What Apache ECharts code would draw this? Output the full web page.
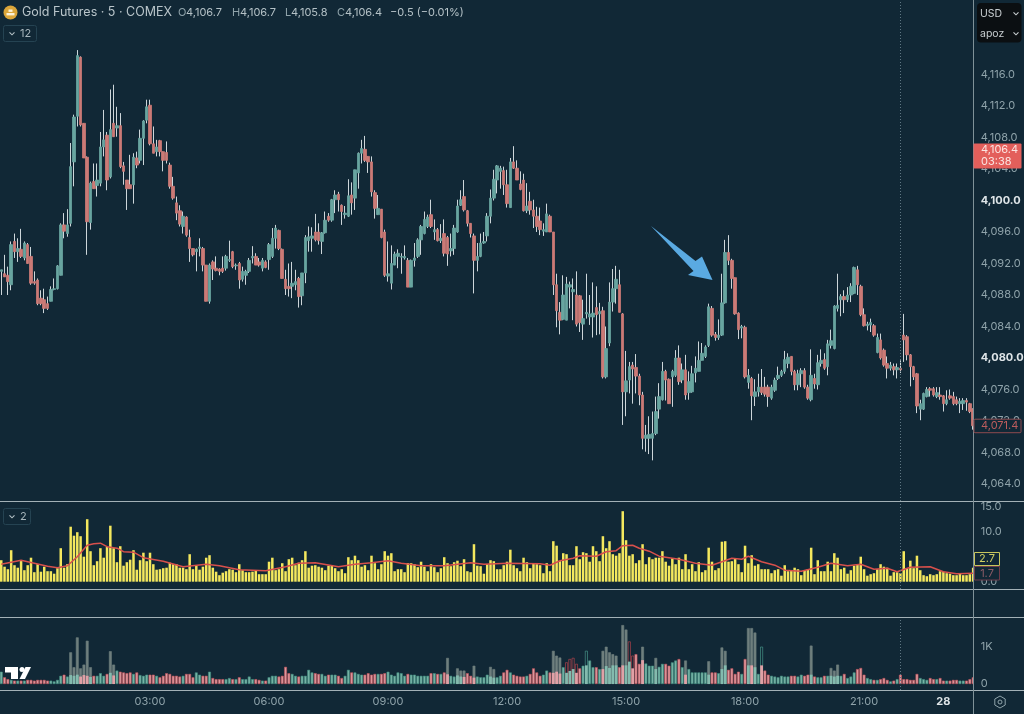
<!DOCTYPE html>
<html><head><meta charset="utf-8">
<style>html,body{margin:0;padding:0;background:#112836}#c{width:1024px;height:714px;filter:blur(0.35px)}</style>
<script src="https://cdn.jsdelivr.net/npm/echarts@6/dist/echarts.min.js"></script>
</head><body><div id="c"></div>
<script>
const opens=[4091.0,4090.7,4090.5,4089.3,4094.8,4093.5,4093.8,4092.7,4094.4,4092.9,
4089.7,4089.9,4087.6,4087.4,4086.9,4087.2,4088.7,4088.8,4090.5,4096.9,
4095.8,4097.1,4104.9,4110.7,4118.2,4109.8,4105.5,4097.2,4102.4,4101.9,
4102.2,4106.8,4108.3,4103.0,4109.8,4109.2,4109.5,4104.4,4102.6,4102.0,
4102.0,4105.4,4105.1,4107.9,4110.2,4112.1,4107.2,4106.2,4107.6,4106.2,
4106.1,4104.5,4101.8,4099.7,4098.7,4096.7,4097.9,4095.3,4093.9,4093.5,
4093.9,4093.9,4091.8,4087.2,4092.2,4091.4,4091.3,4091.4,4091.4,4092.4,
4093.5,4091.7,4092.0,4090.0,4090.5,4091.0,4092.7,4092.9,4092.2,4091.4,
4092.2,4092.5,4092.9,4095.2,4096.2,4093.8,4090.0,4089.1,4089.1,4089.3,
4090.1,4087.9,4090.8,4094.9,4095.2,4096.0,4096.0,4094.8,4095.9,4098.0,
4097.5,4100.1,4100.8,4099.4,4098.2,4098.0,4100.7,4100.3,4103.5,4106.0,
4106.5,4105.6,4104.9,4101.0,4098.2,4098.9,4096.0,4090.4,4089.5,4091.8,
4092.9,4092.8,4092.7,4092.4,4089.0,4092.4,4092.9,4095.0,4095.8,4096.7,
4098.2,4096.0,4096.3,4094.9,4095.8,4095.3,4093.6,4093.9,4096.0,4099.4,
4100.5,4098.7,4097.1,4095.5,4092.4,4092.9,4094.6,4095.5,4098.0,4100.3,
4102.6,4103.7,4103.8,4102.0,4099.1,4104.9,4104.1,4102.1,4102.6,4098.7,
4099.9,4098.8,4098.0,4097.4,4096.1,4096.0,4098.0,4096.0,4089.3,4085.8,
4084.9,4084.8,4089.0,4088.4,4088.0,4087.9,4084.3,4085.6,4085.2,4085.2,
4086.4,4085.6,4086.0,4077.6,4081.9,4087.1,4088.8,4089.3,4085.6,4075.7,
4077.2,4079.1,4078.8,4077.7,4075.3,4069.8,4069.8,4069.8,4070.4,4073.5,
4074.7,4078.3,4077.3,4077.6,4077.8,4080.0,4077.2,4078.5,4075.6,4075.7,
4078.1,4078.3,4079.7,4080.2,4081.6,4086.3,4083.0,4082.6,4082.9,4087.0,
4093.4,4092.4,4090.2,4085.7,4083.8,4083.9,4076.9,4077.4,4075.1,4075.7,
4076.3,4076.3,4076.3,4074.9,4075.9,4077.4,4077.8,4078.3,4079.3,4080.2,
4078.3,4076.6,4078.0,4078.4,4076.3,4074.7,4077.4,4076.6,4079.3,4079.8,
4078.9,4081.6,4081.2,4086.3,4087.4,4087.8,4087.4,4088.0,4088.2,4091.2,
4089.1,4085.5,4084.1,4084.2,4084.1,4080.7,4082.3,4081.0,4079.3,4078.7,
4078.9,4078.5,4078.7,4082.9,4082.7,4080.4,4078.9,4078.0,4073.5,4073.5,
4075.1,4076.1,4076.1,4075.1,4075.3,4075.2,4074.2,4075.2,4075.1,4074.7,
4074.2,4074.2,4074.6,4074.2,4073.5];
const closes=[4091.2,4090.3,4089.7,4094.4,4093.5,4093.9,4092.9,4094.6,4092.0,4089.5,
4089.5,4086.9,4086.9,4086.3,4086.3,4088.7,4088.8,4091.7,4096.9,4096.1,
4096.9,4104.3,4110.6,4118.4,4109.6,4105.4,4097.3,4102.2,4101.5,4102.6,
4106.8,4107.7,4102.6,4109.0,4108.1,4109.5,4104.3,4103.7,4101.5,4101.5,
4105.5,4104.5,4107.9,4110.1,4111.9,4107.2,4106.0,4106.8,4106.2,4105.1,
4105.1,4101.8,4100.3,4098.4,4097.0,4098.0,4095.6,4093.9,4093.1,4093.8,
4094.1,4091.8,4087.2,4091.8,4091.3,4091.1,4091.0,4091.0,4092.9,4092.5,
4091.6,4091.8,4089.9,4091.0,4091.0,4092.4,4092.9,4091.8,4091.8,4092.4,
4091.5,4094.4,4095.2,4096.5,4093.9,4090.1,4088.8,4088.8,4089.5,4089.7,
4087.8,4090.8,4095.3,4095.4,4095.5,4095.0,4094.9,4095.9,4097.5,4097.5,
4100.1,4100.7,4100.1,4098.6,4098.4,4100.6,4099.7,4103.9,4106.0,4106.6,
4105.1,4104.9,4101.1,4099.0,4099.0,4095.3,4090.5,4090.7,4092.0,4093.2,
4093.3,4092.9,4092.9,4089.0,4092.4,4092.7,4095.0,4096.7,4097.6,4097.9,
4096.7,4096.3,4094.9,4095.2,4093.3,4093.2,4093.9,4096.5,4099.3,4100.1,
4098.8,4097.1,4095.8,4092.4,4092.9,4094.6,4094.8,4098.0,4100.3,4102.7,
4104.4,4104.1,4102.0,4099.6,4104.9,4104.1,4102.6,4101.4,4098.7,4099.3,
4098.8,4098.0,4096.7,4096.3,4096.3,4098.3,4096.0,4089.3,4086.0,4084.8,
4088.0,4089.4,4089.3,4088.7,4084.3,4084.5,4085.0,4085.8,4085.6,4085.7,
4085.5,4085.9,4077.6,4081.2,4087.1,4088.8,4090.0,4085.8,4075.7,4077.1,
4078.9,4078.6,4077.7,4075.3,4069.8,4070.2,4070.3,4070.4,4073.2,4075.1,
4078.3,4077.2,4074.2,4078.3,4080.0,4077.0,4078.5,4075.3,4077.0,4078.0,
4078.7,4079.7,4080.6,4081.4,4086.5,4082.9,4082.6,4082.9,4087.0,4093.4,
4092.4,4090.1,4085.6,4083.6,4084.0,4077.6,4077.8,4075.2,4075.7,4076.3,
4075.6,4075.4,4075.1,4076.3,4077.2,4077.8,4078.3,4079.8,4080.1,4078.3,
4076.6,4078.0,4078.4,4076.3,4074.9,4077.8,4076.7,4079.4,4079.7,4078.7,
4081.8,4082.2,4086.6,4086.7,4087.8,4087.4,4088.0,4089.1,4091.5,4089.3,
4085.5,4084.1,4084.3,4084.5,4082.9,4082.6,4080.0,4079.1,4078.7,4079.1,
4078.5,4078.8,4078.5,4082.3,4080.4,4078.9,4077.6,4073.9,4074.2,4075.5,
4076.0,4075.9,4075.3,4075.6,4075.1,4074.2,4074.7,4074.9,4074.2,4074.2,
4074.5,4074.6,4074.4,4073.2,4071.4];
const highs=[4091.2,4093.1,4091.6,4094.8,4095.8,4095.2,4096.4,4094.8,4094.6,4094.1,
4091.0,4090.1,4088.6,4088.8,4087.8,4089.1,4090.1,4091.8,4097.1,4098.4,
4098.9,4107.3,4110.9,4119.1,4118.3,4109.8,4105.6,4102.4,4104.7,4104.7,
4108.7,4111.5,4108.7,4114.1,4114.7,4111.9,4111.1,4104.9,4102.6,4105.8,
4106.0,4106.2,4109.0,4110.2,4112.8,4112.8,4109.4,4107.7,4107.7,4106.2,
4107.5,4104.8,4103.0,4100.5,4099.4,4098.6,4098.0,4096.3,4093.9,4093.9,
4095.2,4094.1,4091.8,4092.0,4092.4,4092.9,4091.4,4092.9,4093.1,4094.9,
4093.6,4092.0,4092.2,4091.6,4091.2,4092.7,4094.2,4093.3,4092.7,4092.7,
4092.4,4094.6,4096.5,4096.9,4096.3,4093.9,4091.2,4092.0,4092.2,4091.2,
4090.3,4090.8,4095.6,4096.7,4096.6,4098.3,4097.1,4096.0,4098.6,4098.4,
4100.2,4101.3,4101.1,4099.5,4099.3,4102.7,4102.3,4103.9,4106.1,4107.7,
4108.2,4105.6,4105.6,4101.3,4100.7,4098.9,4096.3,4094.8,4094.3,4093.5,
4093.8,4093.3,4094.3,4092.7,4092.5,4094.6,4095.2,4096.9,4098.6,4098.2,
4100.1,4097.6,4096.5,4097.0,4097.6,4095.5,4095.8,4096.9,4100.1,4101.3,
4102.6,4098.8,4097.1,4095.8,4094.6,4095.8,4096.0,4098.4,4101.4,4103.9,
4104.5,4104.4,4104.3,4103.9,4105.4,4106.9,4105.1,4103.7,4103.4,4102.2,
4101.1,4100.1,4099.2,4099.1,4097.1,4099.6,4098.2,4096.0,4090.7,4087.1,
4090.5,4090.3,4089.7,4090.1,4091.0,4088.0,4087.4,4090.7,4088.0,4089.6,
4089.1,4087.0,4086.5,4084.0,4089.6,4091.3,4091.7,4091.2,4085.7,4080.9,
4079.5,4079.5,4080.5,4078.0,4075.7,4071.5,4072.6,4073.2,4075.1,4076.8,
4079.5,4078.5,4077.4,4078.5,4081.0,4081.6,4079.3,4080.4,4078.3,4079.0,
4080.2,4082.1,4081.9,4081.6,4086.9,4086.6,4083.3,4084.9,4090.7,4095.0,
4095.6,4092.6,4090.2,4085.8,4084.2,4084.1,4078.6,4077.6,4077.3,4078.0,
4078.6,4077.6,4076.6,4076.6,4077.5,4078.9,4078.5,4080.9,4080.6,4080.2,
4078.5,4078.5,4078.7,4078.7,4076.6,4081.1,4078.0,4080.4,4081.1,4080.6,
4082.3,4083.6,4086.7,4090.7,4088.1,4088.6,4089.0,4089.5,4091.6,4091.7,
4089.3,4086.3,4084.6,4085.0,4084.3,4083.1,4083.1,4081.2,4080.2,4079.5,
4079.3,4079.3,4079.7,4085.6,4082.9,4080.5,4079.0,4078.1,4074.7,4075.6,
4076.3,4076.3,4076.3,4076.3,4076.3,4075.3,4075.9,4076.0,4075.7,4075.1,
4074.9,4074.9,4074.9,4074.3,4073.6];
const lows=[4088.0,4090.3,4088.0,4088.6,4092.7,4092.2,4092.7,4092.4,4092.0,4089.3,
4089.3,4086.7,4086.7,4085.7,4086.1,4087.2,4088.6,4088.7,4090.5,4095.2,
4095.4,4096.7,4101.8,4109.4,4109.4,4105.4,4093.1,4096.3,4101.5,4100.5,
4101.8,4105.6,4101.3,4102.8,4108.1,4108.1,4104.1,4102.0,4098.8,4101.5,
4099.6,4104.1,4104.7,4104.5,4109.8,4107.0,4106.0,4105.6,4105.6,4103.7,
4104.7,4101.5,4100.1,4097.5,4096.7,4095.8,4095.4,4092.2,4092.9,4091.0,
4092.9,4091.0,4087.2,4086.9,4089.9,4091.0,4090.5,4090.8,4091.1,4092.2,
4091.4,4091.2,4088.8,4089.7,4089.3,4090.8,4092.0,4091.8,4091.6,4091.0,
4091.4,4091.2,4092.7,4093.9,4093.7,4090.1,4088.0,4087.8,4087.6,4088.6,
4086.4,4086.7,4089.5,4093.5,4093.5,4094.8,4094.4,4093.2,4095.8,4097.3,
4097.3,4098.4,4098.6,4096.9,4097.7,4097.9,4098.2,4098.8,4101.5,4104.7,
4104.9,4103.5,4100.5,4097.7,4098.2,4095.2,4090.3,4089.7,4088.7,4091.8,
4091.4,4090.7,4092.5,4089.0,4089.0,4091.6,4092.7,4093.1,4095.7,4096.5,
4096.5,4095.0,4094.8,4094.6,4092.9,4091.7,4092.9,4093.1,4095.9,4099.3,
4098.6,4096.7,4095.3,4088.2,4091.0,4092.8,4094.5,4094.8,4097.1,4100.0,
4100.9,4101.5,4100.7,4099.1,4099.1,4104.0,4102.6,4101.3,4098.6,4098.4,
4098.2,4096.5,4096.0,4095.6,4095.5,4096.0,4096.0,4088.0,4083.9,4083.0,
4084.8,4084.8,4086.3,4084.8,4084.0,4083.3,4082.3,4085.0,4084.2,4082.6,
4082.9,4083.0,4077.4,4077.4,4081.5,4085.9,4086.9,4085.8,4071.5,4072.6,
4075.5,4074.2,4075.5,4074.0,4068.4,4068.1,4067.8,4067.0,4070.2,4072.3,
4074.6,4074.6,4074.2,4073.8,4077.6,4076.6,4076.8,4074.7,4074.7,4075.6,
4076.9,4078.3,4079.7,4080.0,4081.4,4082.7,4082.2,4082.3,4082.8,4086.9,
4091.8,4088.8,4085.5,4082.4,4082.5,4077.4,4076.1,4072.1,4073.9,4075.1,
4075.3,4075.1,4073.8,4074.7,4075.7,4077.2,4077.6,4078.0,4078.7,4077.8,
4075.9,4075.9,4076.3,4076.1,4074.7,4074.5,4076.1,4076.0,4078.9,4078.5,
4077.8,4081.2,4081.1,4085.9,4085.3,4085.7,4087.1,4087.1,4088.1,4088.0,
4085.3,4084.0,4083.5,4083.3,4082.7,4080.6,4079.8,4078.9,4077.4,4078.4,
4077.8,4077.4,4078.1,4079.5,4079.7,4076.4,4077.2,4073.0,4072.1,4073.4,
4075.0,4075.1,4075.1,4074.9,4074.7,4073.2,4074.0,4074.7,4074.0,4074.0,
4073.0,4073.4,4073.3,4073.0,4070.9];
const indicator=[4.3,3.0,2.5,6.3,3.3,2.8,4.3,2.3,3.3,4.8,1.9,3.5,2.0,3.0,2.1,2.1,1.6,2.7,6.7,2.8,
3.5,11.0,9.2,9.9,9.1,5.0,12.5,6.1,3.3,4.1,6.7,4.8,7.0,11.2,6.7,3.9,7.1,3.2,3.9,4.4,
6.3,2.4,4.3,5.8,4.1,5.8,3.5,2.4,2.5,2.7,2.8,3.8,3.5,3.5,2.8,2.8,2.5,5.5,2.5,3.2,
2.4,3.0,4.8,5.3,2.8,2.0,1.3,1.8,2.1,2.5,2.4,1.9,3.5,2.3,1.9,1.9,2.0,2.2,1.5,1.5,
1.5,4.0,4.8,2.3,2.5,3.7,2.1,4.5,4.8,3.3,3.8,4.3,6.1,2.8,3.2,3.3,3.0,2.8,2.3,3.2,
3.2,2.7,2.1,2.5,1.7,4.9,4.3,5.2,4.3,3.0,3.3,2.3,5.2,3.7,2.5,3.5,6.1,5.2,5.7,2.1,
2.5,2.5,1.9,3.7,3.7,3.5,2.9,4.0,3.0,2.1,3.5,2.9,1.9,2.7,4.9,3.7,3.1,3.9,4.2,3.1,
4.5,2.1,1.9,7.5,3.2,3.1,1.6,3.5,4.3,4.1,2.5,2.5,3.3,4.0,6.4,3.3,2.7,2.1,4.8,3.9,
2.7,3.7,3.5,3.3,1.7,3.7,2.1,8.1,7.2,4.1,5.7,5.5,3.3,3.3,7.1,4.5,5.9,5.7,4.0,7.1,
6.1,4.1,9.1,6.7,8.1,5.5,5.2,5.7,14.1,8.3,5.2,5.5,3.7,4.3,7.5,3.5,4.9,4.5,4.8,4.8,
6.1,4.0,3.2,4.7,3.5,4.8,2.5,5.5,2.5,3.5,2.1,3.9,1.9,2.3,6.8,4.0,2.3,2.7,8.0,8.1,
4.0,4.1,4.7,3.5,1.9,7.2,3.7,5.3,3.2,3.5,2.5,2.5,2.5,1.7,2.3,2.5,1.2,3.3,2.1,2.3,
2.8,2.5,1.3,2.3,2.5,6.8,1.5,4.3,2.1,2.1,4.0,2.1,5.7,4.8,2.5,2.8,1.6,2.3,3.2,3.5,
5.0,2.5,1.2,1.5,1.7,2.5,3.5,3.0,2.8,1.2,1.9,1.9,1.7,6.1,2.7,4.2,2.7,5.2,2.3,1.3,
1.1,1.5,1.3,1.5,2.1,2.0,1.7,1.6,1.3,1.3,1.7,1.3,1.3,1.5,2.8];
const indicatorAvg=[[0,3.5],[6,4.3],[10,3.7],[14,3.1],[17,2.8],[20,3.2],[23,5.0],[26,7.3],[28,7.6],[30,7.7],[32,7.0],[35,6.7],[37,6.0],[40,5.9],[43,4.8],[49,4.1],[55,3.0],[62,3.5],[66,3.2],[72,2.4],[80,2.2],[86,3.0],[90,3.7],[95,3.8],[102,3.0],[107,3.5],[112,3.8],[117,4.2],[121,3.7],[127,3.2],[134,3.2],[142,3.8],[146,3.5],[153,3.7],[163,3.6],[166,3.3],[169,4.2],[173,4.7],[175,5.2],[180,5.1],[183,6.0],[186,6.2],[188,7.2],[191,7.3],[193,6.7],[196,6.1],[199,5.1],[205,4.5],[210,3.7],[215,3.3],[218,4.0],[221,4.7],[224,4.5],[226,5.1],[230,4.0],[234,3.3],[237,2.3],[242,2.1],[247,2.9],[251,3.7],[256,3.2],[260,3.5],[264,2.5],[268,2.7],[271,2.0],[275,2.9],[281,3.0],[285,2.0],[289,1.6],[294,1.7]];
const volume=[330,180,130,110,90,90,90,90,110,110,90,110,110,110,90,90,70,110,220,250,200,850,450,1250,420,520,1160,450,220,220,290,220,270,880,520,360,330,310,290,310,270,310,240,220,250,250,250,220,180,220,290,270,220,220,200,220,270,270,180,310,250,220,220,330,160,130,130,130,130,160,130,130,180,130,130,200,130,130,110,90,90,180,220,220,200,220,460,290,270,220,200,220,220,380,310,290,270,270,220,250,250,250,220,
160,220,380,310,310,270,250,250,290,250,270,270,270,290,330,250,220,310,290,220,270,250,250,220,220,220,220,290,290,270,270,310,700,220,200,420,360,360,290,220,490,200,180,180,250,460,400,180,220,310,380,310,250,220,200,200,220,270,420,310,220,250,360,310,890,760,710,450,580,670,700,540,420,490,890,630,450,450,400,890,1000,850,800,760,450,1580,1460,1140,760,800,540,1000,550,490,490,700,460,540,540,490,580,630,670,
450,630,400,310,310,310,310,310,610,310,310,290,980,890,380,420,270,330,270,670,1500,1500,1380,270,1000,360,250,220,200,180,220,200,200,220,220,200,250,220,250,1030,200,180,180,220,220,430,360,520,220,270,160,200,310,400,430,250,160,130,110,110,130,160,110,70,90,130,250,130,130,110,110,270,160,130,110,160,130,130,160,90,90,90,110,110,90,90,90,130,180];
const greyVolume=[21,22,23,24,25,26,27,33,34,135,138,139,140,143,148,149,167,168,169,182,183,184,185,186,188,189,194,198,207,214,218,219,226,227,228,245,251,252,253];
const hollowTealVolume=[177,230];
const hollowRedVolume=[171,172,173,174,190,191];
const lowerVolume=[[21,240],[22,220],[23,250],[24,200],[25,240],[26,220],[27,190],[33,300],[34,230],[135,260],[138,230],[139,200],[140,190],[143,170],[148,200],[149,170],[167,300],[168,330],[169,280],[171,300],[172,350],[173,400],[174,300],[177,500],[182,400],[183,480],[184,430],[185,500],[186,500],[188,500],[189,500],[190,600],[191,420],[194,640],[198,400],[207,250],[214,250],[218,400],[219,500],[226,500],[227,500],[228,450],[230,500],[245,250],[251,220],[252,200],[253,220]];
const priceTicks=[4064,4068,4072,4076,4080,4084,4088,4092,4096,4100,4104,4108,4112,4116];
const boldPrices=[4080,4100];
const indTicks=[0,5,10,15];
const volTicks=[0,1000];
const timeTicks=[45,81,117,153,189,225,261,285];
const timeTickLabels=['03:00','06:00','09:00','12:00','15:00','18:00','21:00','28'];
const sessionBreakIndex=272;
const lastClose=4106.4, lastTrade=4071.4, indLast=1.7;

const BG='#112836',UP='#68a5a0',DOWN='#cb7a76',WICK='#cdd6da',AXIS='#8fa3aa',SEP='#a3b1b7';
const categories=opens.map((_,i)=>{const k=timeTicks.indexOf(i);return k>=0?timeTickLabels[k]:String(i)});
const wickData=opens.map((o,i)=>[o,closes[i],lows[i],highs[i]]);
const bodyData=opens.map((o,i)=>[o,closes[i],Math.min(o,closes[i]),Math.max(o,closes[i])]);
const isUp=i=>closes[i]>=opens[i];
const volData=volume.map((v,i)=>{
  const up=isUp(i);
  if(greyVolume.includes(i)) return {value:v,itemStyle:{color:'#6f7f7e',borderColor:'#6f7f7e'}};
  if(hollowTealVolume.includes(i)) return {value:v,itemStyle:{color:'rgba(0,0,0,0)',borderColor:'#4fa595'}};
  if(hollowRedVolume.includes(i)) return {value:v,itemStyle:{color:'rgba(0,0,0,0)',borderColor:'#c8474f'}};
  return {value:v,itemStyle:{color:up?'#78b3a6':'#dc979c',borderColor:up?'#3f8f80':'#c4525a'}};
});
const lowerData=lowerVolume.map(p=>({value:p,itemStyle:{color:isUp(p[0])?'#84bbae':'#e0a1a6'}}));
const fmtPrice=v=>v.toLocaleString('en-US',{minimumFractionDigits:1,maximumFractionDigits:1});
const breakLine={silent:true,symbol:'none',animation:false,label:{show:false},lineStyle:{color:'#5f7783',type:[1,2],width:1},data:[{xAxis:sessionBreakIndex}]};
const GL=-0.4,GW=975.2;
const xBase={type:'category',data:categories,boundaryGap:true,axisLine:{show:false},axisTick:{show:false},splitLine:{show:false}};
const yBase={type:'value',position:'right',z:20,scale:false,axisLine:{show:false},axisTick:{show:false},splitLine:{show:false}};
const lab={color:AXIS,fontSize:11,fontFamily:'Inter',margin:6};

const chart=echarts.init(document.getElementById('c'),null,{renderer:'canvas',width:1024,height:714});
chart.setOption({
  animation:false,backgroundColor:BG,
  grid:[
    {left:GL,width:GW,top:0,height:501,outerBoundsMode:'none'},
    {left:GL,width:GW,top:502,height:87,outerBoundsMode:'none'},
    {left:GL,width:GW,top:618,height:72,outerBoundsMode:'none'}],
  xAxis:[
    {...xBase,gridIndex:0,axisLabel:{show:false}},
    {...xBase,gridIndex:1,axisLabel:{show:false}},
    {...xBase,gridIndex:2,axisLabel:{show:true,color:AXIS,fontSize:11,fontFamily:'Inter',margin:6,hideOverlap:false,
      interval:(i)=>timeTicks.includes(i),
      formatter:(v)=>v==='28'?'{b|28}':v,
      rich:{b:{color:'#dfe5e8',fontWeight:700,fontSize:11,fontFamily:'Inter'}}}}],
  yAxis:[
    {...yBase,gridIndex:0,min:4061.84,max:4125.46,axisLabel:{...lab,customValues:priceTicks,
      formatter:(v)=>boldPrices.includes(v)?'{b|'+fmtPrice(v)+'}':fmtPrice(v),
      rich:{b:{color:'#dfe5e8',fontWeight:700,fontSize:11,fontFamily:'Inter'}}}},
    {...yBase,gridIndex:1,min:-1.46,max:15.94,axisLabel:{...lab,customValues:indTicks,formatter:(v)=>v.toFixed(1)}},
    {...yBase,gridIndex:2,min:-161,max:1770,axisLabel:{...lab,customValues:volTicks,formatter:(v)=>v>=1000?(v/1000)+'K':String(v)}}],
  series:[
    {name:'Wicks',type:'candlestick',xAxisIndex:0,yAxisIndex:0,data:wickData,barWidth:1,z:2,
      itemStyle:{color:WICK,color0:WICK,borderColor:WICK,borderColor0:WICK,borderWidth:1},markLine:breakLine},
    {name:'Bodies',type:'candlestick',xAxisIndex:0,yAxisIndex:0,data:bodyData,barWidth:3,z:3,
      itemStyle:{color:UP,color0:DOWN,borderColor:UP,borderColor0:DOWN,borderWidth:0.8}},
    {name:'Ind',type:'bar',xAxisIndex:1,yAxisIndex:1,data:indicator,barWidth:2.5,z:2,itemStyle:{color:'#f4e85e'},markLine:breakLine},
    {name:'Ind MA',type:'line',xAxisIndex:1,yAxisIndex:1,data:indicatorAvg,showSymbol:false,symbol:'none',z:4,lineStyle:{color:'#d8504c',width:1.5}},
    {name:'Volume',type:'bar',xAxisIndex:2,yAxisIndex:2,data:volData,barWidth:2.8,barGap:'-100%',z:2,itemStyle:{borderWidth:0.6},markLine:breakLine},
    {name:'Volume low',type:'bar',xAxisIndex:2,yAxisIndex:2,data:lowerData,barWidth:2.8,barGap:'-100%',z:3}
  ]
});

const py=v=>chart.convertToPixel({yAxisIndex:0},v);
const iy=v=>chart.convertToPixel({yAxisIndex:1},v);
const T=(x,y,text,o={})=>({type:'text',x,y,z:40,silent:true,style:{text,fill:o.fill||'#b4c1c6',font:(o.weight||'400')+' '+(o.size||11)+'px Inter',textAlign:o.align||'left',textVerticalAlign:'middle',verticalAlign:'middle'}});
const chev=(x,y,c)=>({type:'polyline',z:40,silent:true,shape:{points:[[x-2.5,y-1.2],[x,y+1.3],[x+2.5,y-1.2]]},style:{fill:'none',stroke:c,lineWidth:1.1}});
const L=(x1,y1,x2,y2,c)=>({type:'line',z:15,silent:true,shape:{x1,y1,x2,y2},style:{stroke:c,lineWidth:1}});
const R=(x,y,w,h,fill,stroke,r)=>({type:'rect',z:30,silent:true,shape:{x,y,width:w,height:h,r:r||0},style:{fill,stroke:stroke||null,lineWidth:1}});
const lastY=py(lastClose),tradeY=py(lastTrade),indY=iy(indLast);
chart.setOption({graphic:{elements:[
  {type:'rect',z:10,silent:true,shape:{x:973.5,y:0,width:51,height:714},style:{fill:BG}},
  L(0,501.5,1024,501.5,SEP),L(0,589.5,1024,589.5,SEP),L(0,617.5,1024,617.5,SEP),L(0,690.5,1024,690.5,SEP),L(973.5,0,973.5,714,'#7f9198'),
  {type:'polygon',z:30,silent:true,shape:{points:[[651,226],[695.5,261],[702,256.5],[712.5,280],[688,275],[693.5,271]]},style:{fill:'#5aaae2'}},
  {type:'circle',z:30,silent:true,shape:{cx:10.5,cy:12.5,r:7},style:{fill:'#dba63a'}},
  {type:'rect',z:31,silent:true,shape:{x:6.5,y:13,width:8,height:2.4},style:{fill:'#fbf2d8'}},
  {type:'rect',z:31,silent:true,shape:{x:8.5,y:9.5,width:4,height:2.4},style:{fill:'#fbf2d8'}},
  T(22,12.5,'Gold Futures · 5 · COMEX',{size:12.5,fill:'#b9c5ca'}),
  T(178,12.5,'O',{fill:'#8fa3aa'}),T(186,12.5,'4,106.7'),
  T(232,12.5,'H',{fill:'#8fa3aa'}),T(240,12.5,'4,106.7'),
  T(285,12.5,'L',{fill:'#8fa3aa'}),T(291,12.5,'4,105.8'),
  T(337,12.5,'C',{fill:'#8fa3aa'}),T(345,12.5,'4,106.4'),
  T(390,12.5,'−0.5 (−0.01%)'),
  R(3.5,25.5,33,16,'rgba(0,0,0,0)','#254352',2),chev(12,33.5,'#b4c1c6'),T(20,33.5,'12',{fill:'#a8b6bc'}),
  R(3.5,508.5,27,16,'rgba(0,0,0,0)','#254352',2),chev(12,516.5,'#b4c1c6'),T(20,516.5,'2',{fill:'#a8b6bc'}),
  R(977,3,44.5,39.5,'#0b0f12',null,4),
  T(980,13.5,'USD',{size:10.5,fill:'#c8ced1'}),chev(1016,13.5,'#c8ced1'),
  T(980,33.5,'apoz',{size:10.5,fill:'#c8ced1'}),chev(1016,33.5,'#c8ced1'),
  R(973.5,lastY-6.5,48,25,'#e35f5b',null,1),
  T(981,lastY,'4,106.4',{fill:'#fbe4e1'}),T(981,lastY+12,'03:38',{fill:'#fbe4e1'}),
  R(974,tradeY-6.5,47,13.5,BG,'#8e4b50',1),T(981,tradeY,'4,071.4',{fill:'#bb5c5c'}),
  R(974.5,552.5,25,13,BG,'#c8c65c',0),T(987,559,'2.7',{fill:'#cfcd62',align:'center'}),
  R(974.5,indY-6.7,25,13.5,BG,'#6d3c4a',0),T(987,indY,'1.7',{fill:'#8c5b66',align:'center'}),
  {type:'polygon',z:30,silent:true,shape:{points:[[1000,696],[1005.2,699],[1005.2,705],[1000,708],[994.8,705],[994.8,699]]},style:{fill:'none',stroke:AXIS,lineWidth:1}},
  {type:'circle',z:30,silent:true,shape:{cx:1000,cy:702,r:2},style:{fill:'none',stroke:AXIS,lineWidth:1}},
  {type:'polygon',z:30,silent:true,shape:{points:[[5,667],[18,667],[18,679],[11,679],[11,672.5],[5,672.5]]},style:{fill:'#ffffff'}},
  {type:'circle',z:30,silent:true,shape:{cx:22,cy:669.5,r:2.5},style:{fill:'#ffffff'}},
  {type:'polygon',z:30,silent:true,shape:{points:[[25.5,667],[31,667],[25,679],[19.5,679]]},style:{fill:'#ffffff'}}
]}});
</script></body></html>
